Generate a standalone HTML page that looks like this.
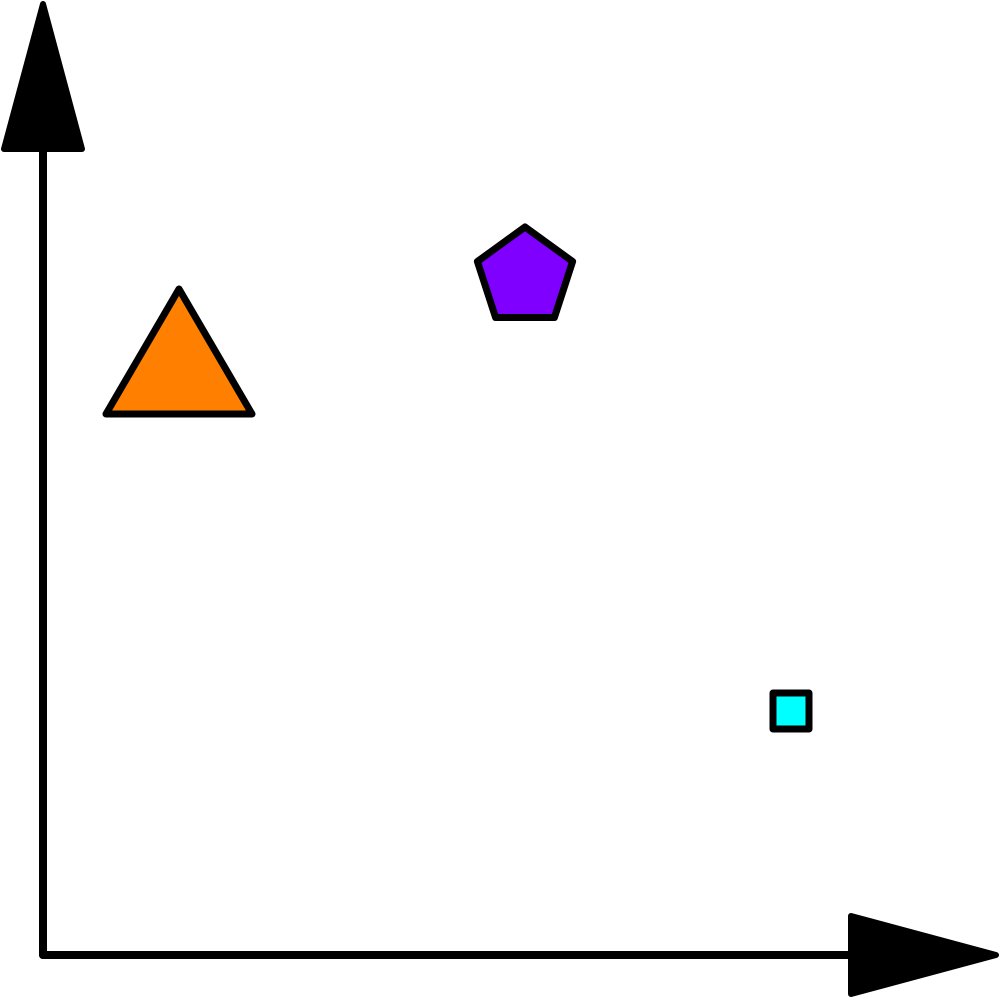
<!DOCTYPE html>
<html><head><meta charset="utf-8"><style>html,body{margin:0;padding:0;background:#fff;width:1000px;height:1000px;overflow:hidden}</style></head>
<body>
<svg id="chart" width="1000" height="1000" viewBox="0 0 1000 1000" xmlns="http://www.w3.org/2000/svg">
<g>
<line x1="43" y1="955" x2="43" y2="148" stroke="#000" stroke-width="8" stroke-linecap="round"/>
<polygon points="43,4 4,149 82,149" fill="#000" stroke="#000" stroke-width="6" stroke-linejoin="round"/>
</g>
<g>
<line x1="43" y1="955" x2="852" y2="955" stroke="#000" stroke-width="8" stroke-linecap="round"/>
<polygon points="996,955 851,916 851,994" fill="#000" stroke="#000" stroke-width="6" stroke-linejoin="round"/>
</g>
<g id="marks"></g>
</svg>
<script>
const labels = ["triangle", "pentagon", "square"];
const xValues = [1.36, 4.82, 7.48];
const yValues = [6.035, 6.78, 2.44];
const shapes = ["triangle", "pentagon", "square"];
const colors = ["#ff8000", "#8000ff", "#00ffff"];
const sizes = [73, 50, 18];

function xScale(v){ return 43 + v * 100; }
function yScale(v){ return 955 - v * 100; }

const g = document.getElementById('marks');
const NS = 'http://www.w3.org/2000/svg';
for (let i = 0; i < labels.length; i++) {
  const cx = xScale(xValues[i]), cy = yScale(yValues[i]), s = sizes[i];
  let pts = [];
  if (shapes[i] === 'triangle') {
    const h = s * 125 / 73;
    pts = [[cx, cy - h/2], [cx + s, cy + h/2], [cx - s, cy + h/2]];
  } else if (shapes[i] === 'pentagon') {
    for (let k = 0; k < 5; k++) {
      const a = -Math.PI/2 + k * 2 * Math.PI / 5;
      pts.push([cx + s * Math.cos(a), cy + s * Math.sin(a)]);
    }
  } else {
    pts = [[cx - s, cy - s], [cx + s, cy - s], [cx + s, cy + s], [cx - s, cy + s]];
  }
  const p = document.createElementNS(NS, 'polygon');
  p.setAttribute('points', pts.map(q => q[0].toFixed(1) + ',' + q[1].toFixed(1)).join(' '));
  p.setAttribute('fill', colors[i]);
  p.setAttribute('stroke', '#000');
  p.setAttribute('stroke-width', '7');
  p.setAttribute('stroke-linejoin', 'round');
  
  
  g.appendChild(p);
}
</script>
</body></html>
